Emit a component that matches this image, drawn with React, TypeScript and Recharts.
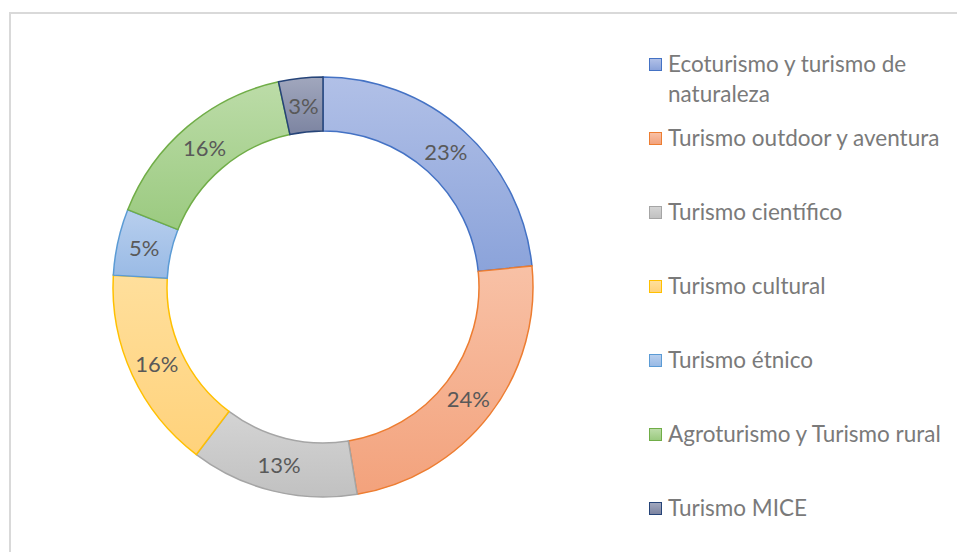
import * as React from 'react'
import { PieChart, Pie, Cell, Legend } from 'recharts'

const categories = [
  'Ecoturismo y turismo de naturaleza',
  'Turismo outdoor y aventura',
  'Turismo científico',
  'Turismo cultural',
  'Turismo étnico',
  'Agroturismo y Turismo rural',
  'Turismo MICE',
]
const shares = [23.4, 24.0, 12.9, 15.6, 5.1, 15.6, 3.4]

const strokeColors = ['#4472c4', '#ed7d31', '#a5a5a5', '#ffc000', '#5b9bd5', '#70ad47', '#264478']
const topColors = ['#b1c0e7', '#f8c1a6', '#d4d4d4', '#ffdf9c', '#b8cfee', '#bcdca8', '#a1a7bd']
const bottomColors = ['#8ba3da', '#f3a27c', '#c1c1c1', '#ffd27b', '#99bae5', '#9bca80', '#7c84a1']

const data = categories.map((name, i) => ({ name, value: shares[i] }))

const RADIAN = Math.PI / 180
const FONT = 'Lato, "Open Sans", sans-serif'

const renderLabel = (props: any) => {
  const { cx, cy, midAngle, innerRadius, outerRadius, percent } = props
  const r = (innerRadius + outerRadius) / 2
  const x = cx + r * Math.cos(-midAngle * RADIAN)
  const y = cy + r * Math.sin(-midAngle * RADIAN)
  return (
    <text x={x} y={y} fill="#595959" fontSize={22} fontFamily={FONT} textAnchor="middle" dominantBaseline="central">
      {`${Math.round(percent * 100)}%`}
    </text>
  )
}

const LegendBox = () => (
  <div style={{ fontFamily: FONT, fontSize: 22.5, color: '#7a7a7a' }}>
    {categories.map((name, i) => (
      <div key={name} style={{ height: 74, display: 'flex', alignItems: 'flex-start' }}>
        <div style={{ height: 30, display: 'flex', alignItems: 'center' }}>
          <span
            style={{
              width: 11,
              height: 11,
              border: `1.5px solid ${strokeColors[i]}`,
              background: `linear-gradient(${topColors[i]}, ${bottomColors[i]})`,
              display: 'inline-block',
            }}
          />
        </div>
        <div style={{ marginLeft: 6, lineHeight: '30px', width: 285 }}>{name}</div>
      </div>
    ))}
  </div>
)

export default function App() {
  return (
    <div style={{ position: 'fixed', left: 0, top: 0, width: 957, height: 552, overflow: 'hidden', background: '#fff' }}>
      <div style={{ position: 'absolute', left: 9, top: 12, width: 960, height: 560, border: '2px solid #d9d9d9' }}>
        <PieChart width={960} height={560}>
          <defs>
            {categories.map((_, i) => (
              <linearGradient key={i} id={`grad${i}`} x1="0" y1="0" x2="0" y2="1">
                <stop offset="0%" stopColor={topColors[i]} />
                <stop offset="100%" stopColor={bottomColors[i]} />
              </linearGradient>
            ))}
          </defs>
          <Pie
            data={data}
            dataKey="value"
            nameKey="name"
            cx={307}
            cy={268}
            innerRadius={156}
            outerRadius={210}
            startAngle={90}
            endAngle={-270}
            labelLine={false}
            label={renderLabel}
            isAnimationActive={false}
          >
            {data.map((_, i) => (
              <Cell key={i} fill={`url(#grad${i})`} stroke={strokeColors[i]} strokeWidth={1.5} />
            ))}
          </Pie>
          <Legend content={() => <LegendBox />} wrapperStyle={{ left: 638, top: 35, width: 315 }} />
        </PieChart>
      </div>
    </div>
  )
}
